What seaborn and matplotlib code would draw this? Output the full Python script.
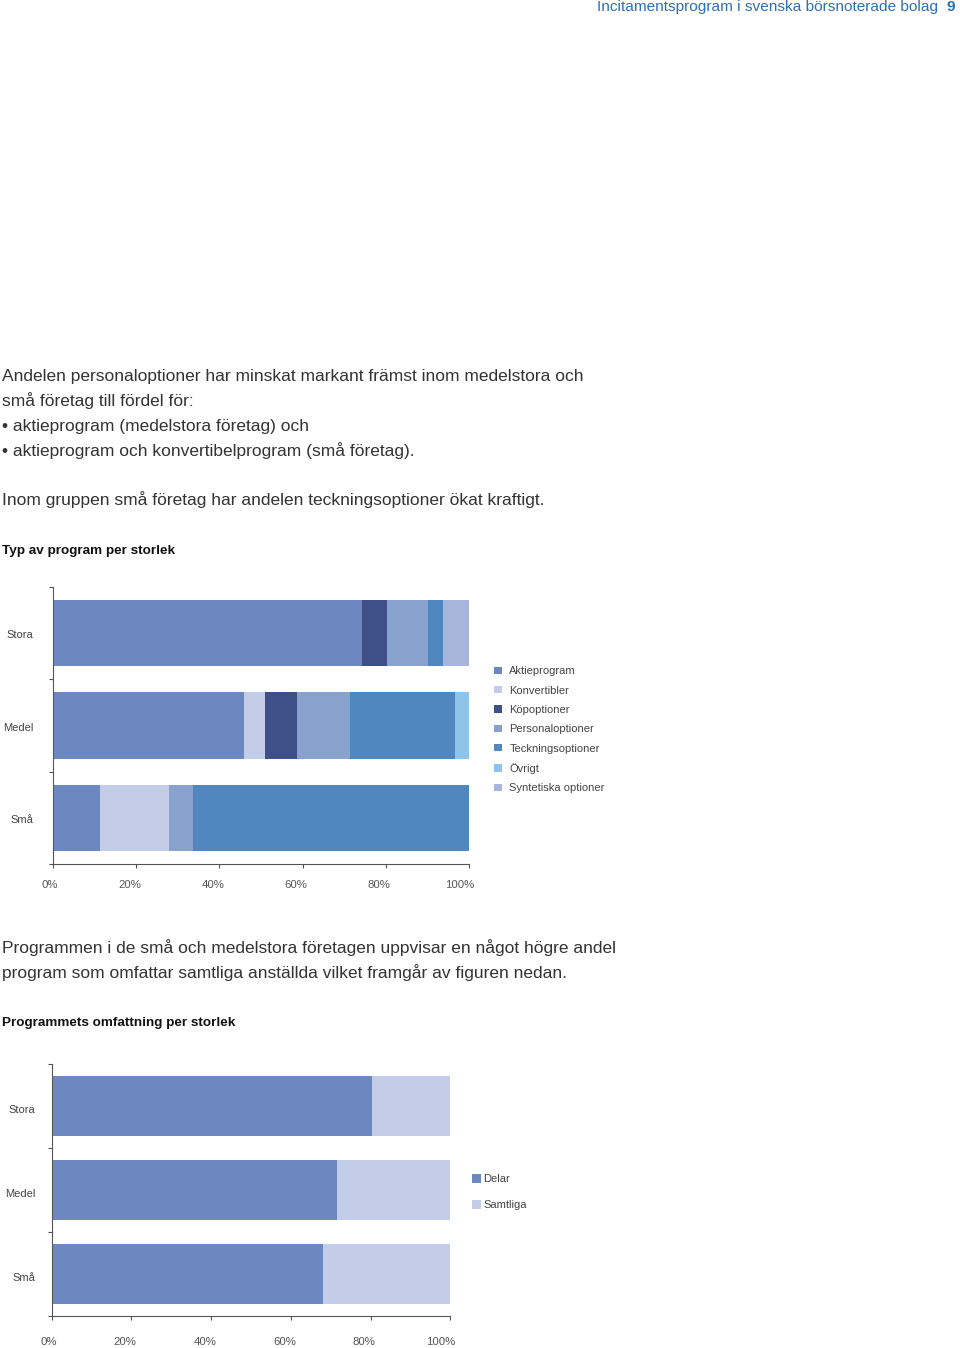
import matplotlib
matplotlib.use("Agg")
import matplotlib.pyplot as plt
import matplotlib.transforms as mtransforms
from matplotlib.patches import Patch
import seaborn as sns
import pandas as pd

# ---------------- data ----------------
sizes = ["Stora", "Medel", "Små"]

prog_types = ["Aktieprogram", "Konvertibler", "Köpoptioner", "Personaloptioner",
              "Teckningsoptioner", "Övrigt", "Syntetiska optioner"]
aktieprogram = [74.3, 46.0, 11.2]
konvertibler = [0.0, 5.0, 16.7]
kopoptioner = [6.0, 7.6, 0.0]
personaloptioner = [9.9, 12.8, 5.7]
teckningsoptioner = [3.5, 25.2, 66.4]
ovrigt = [0.0, 3.4, 0.0]
syntetiska = [6.3, 0.0, 0.0]

scope_types = ["Delar", "Samtliga"]
delar = [80.3, 71.7, 68.1]
samtliga = [19.7, 28.3, 31.9]

x_ticks = [0, 20, 40, 60, 80, 100]
x_ticklabels = ["0%", "20%", "40%", "60%", "80%", "100%"]

colors1 = ["#6d88c0", "#c3cde7", "#3f4f88", "#88a1cd", "#5087be", "#8ec3ea", "#a8b6db"]
colors2 = ["#6d88c0", "#c3cde7"]

# ---------------- style ----------------
sns.set_style("ticks")
plt.rcParams['font.family'] = ['Liberation Sans', 'DejaVu Sans']

W, H = 960, 1348
fig = plt.figure(figsize=(W / 100, H / 100), dpi=100)
TXT = "#333333"
AX = "#555555"


def fy(px):
    return 1 - px / H


def axes_px(l, r, t, b):
    return fig.add_axes([l / W, 1 - b / H, (r - l) / W, (b - t) / H])


# header
fig.text(938 / W, fy(7), "Incitamentsprogram i svenska börsnoterade bolag", ha="right",
         va="center", fontsize=11.05, color="#2f6fb3")
fig.text(955 / W, fy(7), "9", ha="right", va="center", fontsize=11.05,
         color="#2f6fb3", fontweight="bold")

body1 = [
    (376, "Andelen personaloptioner har minskat markant främst inom medelstora och"),
    (401, "små företag till fördel för:"),
    (426, "• aktieprogram (medelstora företag) och"),
    (451, "• aktieprogram och konvertibelprogram (små företag)."),
    (500, "Inom gruppen små företag har andelen teckningsoptioner ökat kraftigt."),
]
for y, t in body1:
    fig.text(2 / W, fy(y), t, ha="left", va="center", fontsize=12.5, color=TXT)
fig.text(2 / W, fy(551), "Typ av program per storlek", ha="left", va="center",
         fontsize=9.7, fontweight="bold", color="#111111")

body2 = [
    (948, "Programmen i de små och medelstora företagen uppvisar en något högre andel"),
    (973, "program som omfattar samtliga anställda vilket framgår av figuren nedan."),
]
for y, t in body2:
    fig.text(2 / W, fy(y), t, ha="left", va="center", fontsize=12.5, color=TXT)
fig.text(2 / W, fy(1023), "Programmets omfattning per storlek", ha="left", va="center",
         fontsize=9.7, fontweight="bold", color="#111111")


def stacked(ax, series, colors, width):
    cums = []
    run = [0.0] * len(sizes)
    for s in series:
        run = [a + b for a, b in zip(run, s)]
        cums.append(list(run))
    for cum, c in reversed(list(zip(cums, colors))):
        df = pd.DataFrame({"size": sizes, "value": cum})
        sns.barplot(data=df, x="value", y="size", orient="h", color=c, width=width,
                    saturation=1, linewidth=0, edgecolor="none", ax=ax, errorbar=None)


def style_axes(ax, ylabel_pad, xlabel_pad, label_dx, ylabel_dy):
    ax.set_xlim(0, 100)
    ax.set_ylim(2.5, -0.5)
    ax.set_xlabel("")
    ax.set_ylabel("")
    ax.set_xticks(x_ticks)
    ax.set_xticklabels(x_ticklabels)
    ax.set_yticks([-0.5, 0.5, 1.5, 2.5], minor=True)
    sns.despine(ax=ax)
    for s in ["left", "bottom"]:
        ax.spines[s].set_color(AX)
        ax.spines[s].set_linewidth(0.8)
    ax.tick_params(axis="y", which="major", length=0, pad=ylabel_pad, labelsize=8,
                   labelcolor="#444444")
    ax.tick_params(axis="y", which="minor", length=3, width=0.8, color=AX)
    ax.tick_params(axis="x", which="major", length=3, width=0.8, color=AX,
                   pad=xlabel_pad, labelsize=8.2, labelcolor="#555555")
    off = mtransforms.ScaledTranslation(label_dx / 100, 0, fig.dpi_scale_trans)
    for lab in ax.get_xticklabels():
        lab.set_horizontalalignment("right")
        lab.set_transform(lab.get_transform() + off)
    offy = mtransforms.ScaledTranslation(0, -ylabel_dy / 100, fig.dpi_scale_trans)
    for lab in ax.get_yticklabels():
        lab.set_transform(lab.get_transform() + offy)


# ---------------- chart 1 ----------------
ax1 = axes_px(53, 469, 587, 864.3)
stacked(ax1, [aktieprogram, konvertibler, kopoptioner, personaloptioner,
              teckningsoptioner, ovrigt, syntetiska], colors1, 0.72)
style_axes(ax1, ylabel_pad=14, xlabel_pad=8, label_dx=5, ylabel_dy=1)

h1 = [Patch(facecolor=c, edgecolor="none") for c in colors1]
fig.legend(h1, prog_types, loc="upper left", bbox_to_anchor=(491 / W, fy(663)),
           frameon=False, fontsize=8, handlelength=0.65, handleheight=0.65,
           handletextpad=0.7, labelspacing=0.84, borderaxespad=0, borderpad=0.3,
           labelcolor="#444444")

# ---------------- chart 2 ----------------
ax2 = axes_px(51.7, 450.3, 1064, 1315.7)
stacked(ax2, [delar, samtliga], colors2, 0.72)
style_axes(ax2, ylabel_pad=12, xlabel_pad=12, label_dx=5, ylabel_dy=3)

h2 = [Patch(facecolor=c, edgecolor="none") for c in colors2]
fig.legend(h2, scope_types, loc="upper left", bbox_to_anchor=(469 / W, fy(1171)),
           frameon=False, fontsize=8, handlelength=0.8, handleheight=0.8,
           handletextpad=0.2, labelspacing=1.43, borderaxespad=0, borderpad=0.3,
           labelcolor="#444444")

fig.savefig("out.png", dpi=100)
